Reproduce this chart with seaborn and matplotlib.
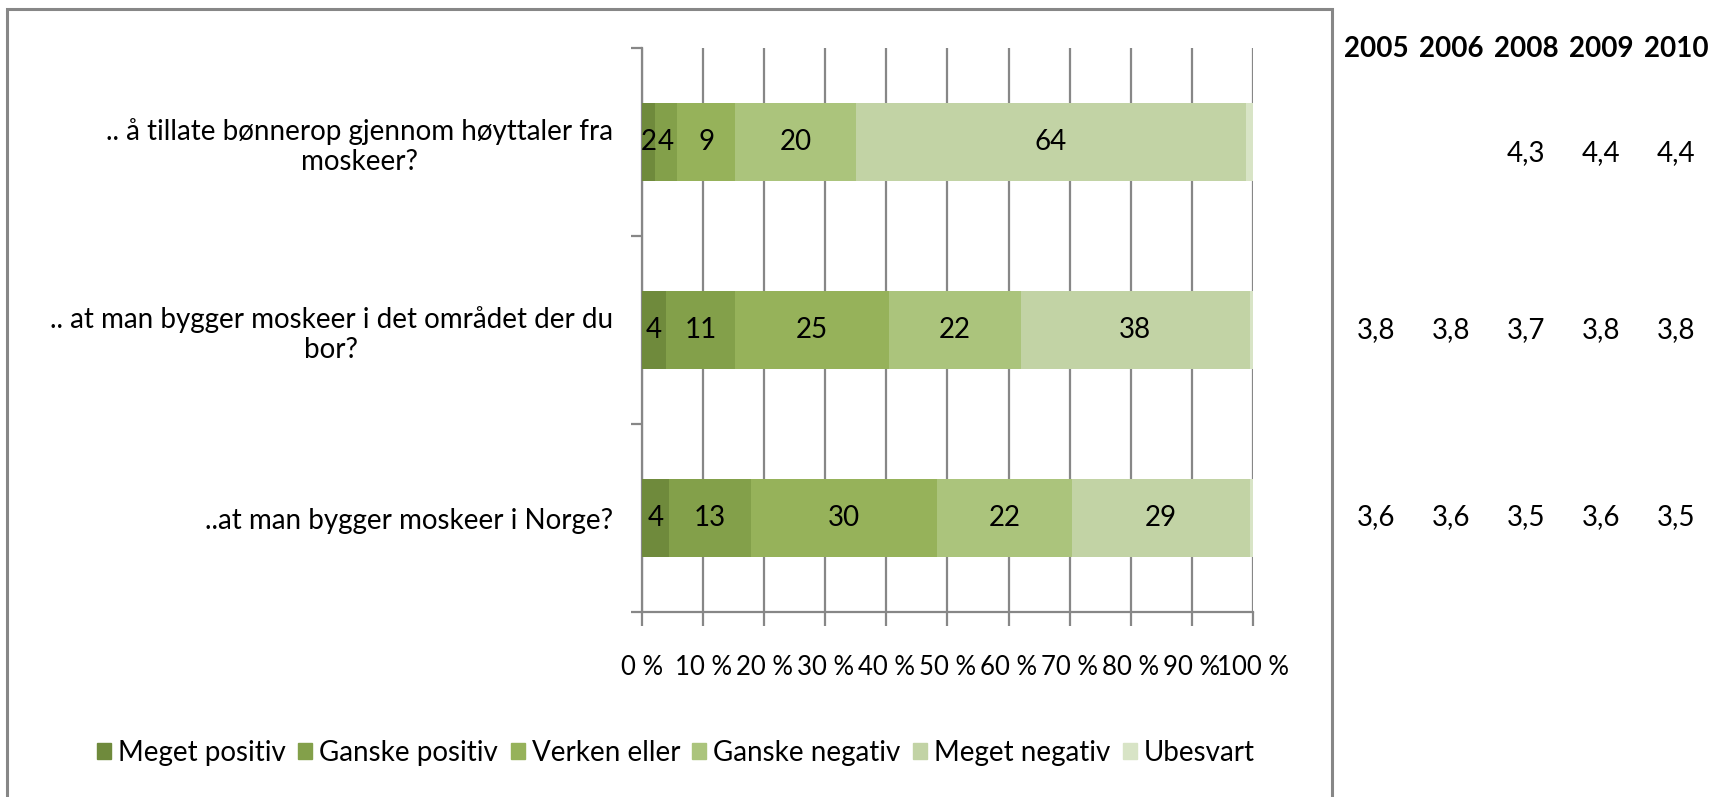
import matplotlib
matplotlib.use("Agg")
import matplotlib.pyplot as plt
import matplotlib.patches as mpatches
import numpy as np
import pandas as pd
import seaborn as sns

questions = [
    ".. å tillate bønnerop gjennom høyttaler fra\nmoskeer?",
    ".. at man bygger moskeer i det området der du\nbor?",
    "..at man bygger moskeer i Norge?",
]
answers = ["Meget positiv", "Ganske positiv", "Verken eller",
           "Ganske negativ", "Meget negativ", "Ubesvart"]
meget_positiv = [2.1, 3.9, 4.4]
ganske_positiv = [3.7, 11.3, 13.4]
verken_eller = [9.4, 25.2, 30.4]
ganske_negativ = [19.8, 21.6, 22.2]
meget_negativ = [63.9, 37.5, 29.1]
ubesvart = [1.1, 0.5, 0.5]
colors = ["#6f8a3c", "#83a04a", "#96b25a", "#abc47c", "#c2d3a5", "#d8e4c6"]

years = ["2005", "2006", "2008", "2009", "2010"]
means = [
    [None, None, "4,3", "4,4", "4,4"],
    ["3,8", "3,8", "3,7", "3,8", "3,8"],
    ["3,6", "3,6", "3,5", "3,6", "3,5"],
]

series = [meget_positiv, ganske_positiv, verken_eller,
          ganske_negativ, meget_negativ, ubesvart]
df = pd.DataFrame(dict(zip(answers, series)), index=questions)
cum = df.cumsum(axis=1)

plt.rcParams["font.family"] = ["Lato", "DejaVu Sans"]
FS = 20
W, H = 1715, 797
fig = plt.figure(figsize=(W / 100, H / 100), dpi=100)
ax = fig.add_axes([642 / W, 1 - 612 / H, (1253 - 642) / W, (612 - 48) / H])

# chart border
fig.patches.append(mpatches.Rectangle((7 / W, -0.05), (1332 - 7) / W, 1.05 - 9 / H,
                                      transform=fig.transFigure, fill=False,
                                      edgecolor="#878787", linewidth=2.2))

# stacked bars: draw cumulative totals from the right so each covers the next
for name, col in reversed(list(zip(answers, colors))):
    sns.barplot(x=cum[name].values, y=questions, orient="h", color=col,
                saturation=1, width=0.41, ax=ax, zorder=3, edgecolor="none")

# segment labels
for i, q in enumerate(questions):
    left = 0
    for name in answers:
        v = df.loc[q, name]
        if name != "Ubesvart":
            ax.text(left + v / 2, i, f"{v:.0f}", ha="center", va="center",
                    fontsize=FS, zorder=4)
        left += v

ax.set_xlim(0, 100)
ax.set_ylim(2.5, -0.5)
ax.set_xticks(np.arange(0, 101, 10))
ax.set_xticklabels([f"{t} %" for t in range(0, 101, 10)], fontsize=18.5)
ax.xaxis.grid(True, color="#878787", linewidth=1.6, zorder=0)
ax.set_axisbelow(True)
ax.tick_params(axis="x", length=10, width=1.6, color="#878787", pad=21)
ax.set_yticks([0, 1, 2])
ax.set_yticks([-0.5, 0.5, 1.5, 2.5], minor=True)
ax.tick_params(axis="y", which="major", length=0, pad=21, labelsize=FS)
ax.tick_params(axis="y", which="minor", length=8, width=1.6, color="#878787")
for lab in ax.get_yticklabels():
    lab.set_multialignment("center")
ax.set_xlabel("")
ax.set_ylabel("")
for side in ["top", "right"]:
    ax.spines[side].set_visible(False)
for side in ["left", "bottom"]:
    ax.spines[side].set_color("#878787")
    ax.spines[side].set_linewidth(1.6)

# mean table on the right
col_x = [1376, 1451, 1526, 1601, 1676]
row_y = [153, 330, 517]
for x, yr in zip(col_x, years):
    fig.text(x / W, 1 - 49 / H, yr, ha="center", va="center",
             fontsize=FS, fontweight="bold")
for y, row in zip(row_y, means):
    for x, m in zip(col_x, row):
        if m is not None:
            fig.text(x / W, 1 - y / H, m, ha="center", va="center", fontsize=FS)

handles = [mpatches.Patch(color=c, label=a) for a, c in zip(answers, colors)]
fig.legend(handles=handles, loc="center", bbox_to_anchor=(676 / W, 1 - 753 / H),
           ncol=6, frameon=False, fontsize=FS, handlelength=0.5,
           handleheight=0.5, handletextpad=0.25, columnspacing=0.45)

fig.savefig("out.png", dpi=100)
